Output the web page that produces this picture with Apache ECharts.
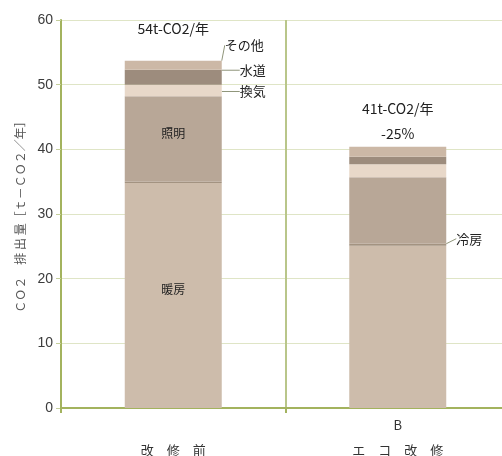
<!DOCTYPE html>
<html>
<head>
<meta charset="utf-8">
<script src="https://cdn.jsdelivr.net/npm/echarts@6/dist/echarts.min.js"></script>
<style>
  html, body { margin: 0; padding: 0; background: #fff; }
  #main { width: 502px; height: 456px; }
</style>
</head>
<body>
<div id="main"></div>
<script>
// カテゴリ
var categories = ['\n改　修　前', 'B\nエ　コ　改　修'];
// 用途別 CO2 排出量 [t-CO2/年]
var heating = [34.8, 25.1];     // 暖房
var cooling = [0.2, 0.3];       // 冷房
var lighting = [13.2, 10.3];    // 照明
var ventilation = [1.8, 2.0];   // 換気
var water = [2.3, 1.15];        // 水道
var other = [1.4, 1.55];        // その他
var totals = [0, 0];
var totalLabels = ['54t-CO2/年', '41t-CO2/年\n-25%'];

var myChart = echarts.init(document.getElementById('main'));

var jpFont = '"Noto Sans CJK JP", sans-serif';
var lineColor = '#8f957a';

// 棒の中のラベル（改修前だけ）
function innerLabel(values, name) {
    return values.map(function (v, i) {
        return {
            value: v,
            label: {
                show: i === 0,
                position: 'inside',
                offset: [0, -6],
                formatter: name,
                color: '#222',
                fontSize: 12,
                fontFamily: jpFont
            }
        };
    });
}

// 引き出し線つきラベル
function sideLabel(values, name, idx) {
    return values.map(function (v, i) {
        return {
            value: v,
            label: {
                show: i === idx,
                position: 'right',
                formatter: name,
                color: '#222',
                fontSize: 13,
                fontFamily: jpFont
            },
            labelLine: { show: i === idx }
        };
    });
}

// dx, dy: ラベル位置 / sx, sy: 線の始点（棒の右端・区間中央から）
function moveLabel(dx, dy, sx, sy) {
    return function (params) {
        var right = params.rect.x + params.rect.width;
        var cy = params.rect.y + params.rect.height / 2;
        var p0 = [right + sx, cy + sy];
        var p2 = [right + dx - 2, cy + dy];
        return {
            x: right + dx,
            y: cy + dy,
            align: 'left',
            verticalAlign: 'middle',
            labelLinePoints: [p0, [(p0[0] + p2[0]) / 2, (p0[1] + p2[1]) / 2], p2]
        };
    };
}

var barCommon = {
    type: 'bar',
    stack: 'co2',
    barWidth: 97,
    animation: false,
    labelLine: { show: true, lineStyle: { color: lineColor, width: 1 } }
};

let option = {
    backgroundColor: '#fff',
    grid: { left: 61, right: -8, top: 20, bottom: 48, outerBoundsMode: 'none' },
    xAxis: {
        type: 'category',
        data: categories,
        axisLine: { lineStyle: { color: '#a3b35e', width: 2 } },
        axisTick: { show: true, length: 5, lineStyle: { color: '#a3b35e', width: 2 } },
        splitLine: { show: true, lineStyle: { color: '#b9c68a', width: 2 } },
        axisLabel: {
            color: '#333',
            fontSize: 13,
            fontFamily: jpFont,
            lineHeight: 25,
            margin: 5
        }
    },
    yAxis: {
        type: 'value',
        min: 0,
        max: 60,
        interval: 10,
        name: 'ＣＯ２　排 出 量［ｔ－ＣＯ２／年］',
        nameLocation: 'middle',
        nameGap: 30,
        nameTextStyle: { color: '#555', fontSize: 12, fontFamily: jpFont },
        axisLine: { show: true, lineStyle: { color: '#a3b35e', width: 2 } },
        axisTick: { show: true, length: 5, lineStyle: { color: '#c5cf9c' } },
        splitLine: { lineStyle: { color: '#dfe5c6', width: 1 } },
        axisLabel: {
            color: '#3c3c3c',
            fontSize: 14,
            fontFamily: '"Liberation Sans", Arial, sans-serif',
            margin: 8
        }
    },
    series: [
        Object.assign({}, barCommon, {
            name: '暖房',
            data: innerLabel(heating, '暖房'),
            itemStyle: { color: '#cdbcab' }
        }),
        Object.assign({}, barCommon, {
            name: '冷房',
            data: sideLabel(cooling, '冷房', 1),
            itemStyle: { color: '#a39381' },
            labelLayout: moveLabel(10, -6, -4, 1)
        }),
        Object.assign({}, barCommon, {
            name: '照明',
            data: innerLabel(lighting, '照明'),
            itemStyle: { color: '#b8a797' }
        }),
        Object.assign({}, barCommon, {
            name: '換気',
            data: sideLabel(ventilation, '換気', 0),
            itemStyle: { color: '#e8d8c9' },
            labelLayout: moveLabel(18, 1, -9, 1)
        }),
        Object.assign({}, barCommon, {
            name: '水道',
            data: sideLabel(water, '水道', 0),
            itemStyle: { color: '#9d8c7d' },
            labelLayout: moveLabel(18, -7, 0, -2)
        }),
        Object.assign({}, barCommon, {
            name: 'その他',
            data: sideLabel(other, 'その他', 0),
            itemStyle: { color: '#ccb8a6' },
            labelLayout: moveLabel(3, -20, -19, -3)
        }),
        // 合計ラベル
        Object.assign({}, barCommon, {
            name: '合計',
            data: totals.map(function (v, i) {
                return {
                    value: v,
                    label: {
                        show: true,
                        position: 'top',
                        distance: i === 0 ? 20 : 1,
                        formatter: totalLabels[i],
                        color: '#222',
                        fontSize: 14,
                        lineHeight: 25,
                        fontFamily: jpFont
                    }
                };
            }),
            itemStyle: { color: 'transparent' },
            labelLine: { show: false }
        })
    ]
};

myChart.setOption(option);
</script>
</body>
</html>
